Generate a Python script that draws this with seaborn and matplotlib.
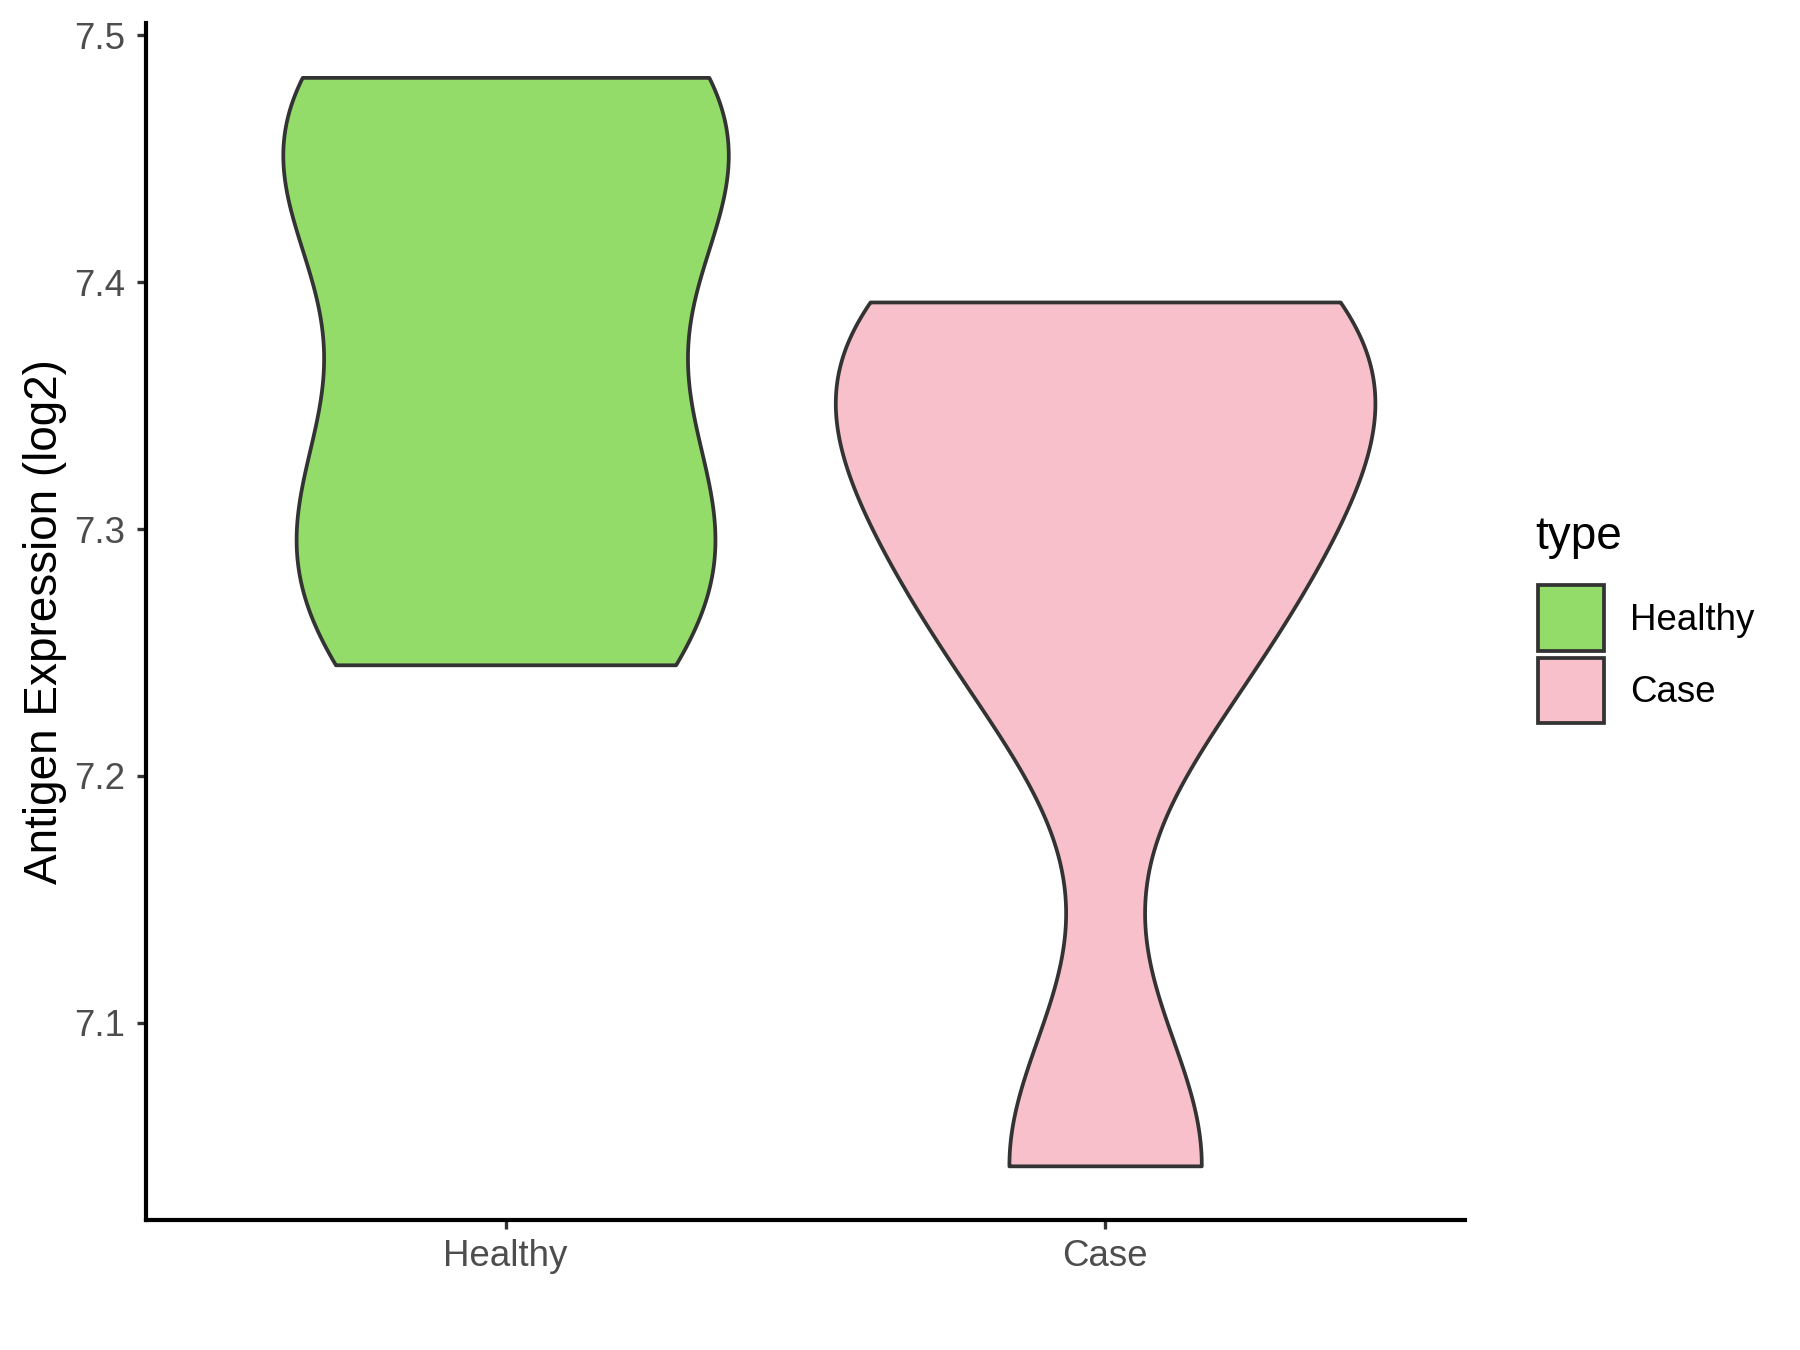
import numpy as np
import pandas as pd
import seaborn as sns
import matplotlib
matplotlib.use("Agg")
import matplotlib.pyplot as plt
from matplotlib.patches import Patch

# ---- data ----
categories = ["Healthy", "Case"]
healthy_values = [7.245, 7.295, 7.315, 7.435, 7.46, 7.483]
case_values = [7.042, 7.252, 7.318, 7.372, 7.392]
fill_colors = ["#93DC6A", "#F7C0CB"]
y_ticks = [7.1, 7.2, 7.3, 7.4, 7.5]
y_label = "Antigen Expression (log2)"
legend_title = "type"

plt.rcParams["font.family"] = ["Liberation Sans", "DejaVu Sans"]

df = pd.DataFrame({
    "type": ["Healthy"] * len(healthy_values) + ["Case"] * len(case_values),
    "value": healthy_values + case_values,
})


def nrd0_factor(kde):
    """Silverman's rule of thumb (R's bw.nrd0), expressed as a gaussian_kde factor."""
    x = np.asarray(kde.dataset).ravel()
    sd = x.std(ddof=1)
    q75, q25 = np.percentile(x, [75, 25])
    lo = min(sd, (q75 - q25) / 1.34)
    bw = 0.9 * lo * len(x) ** (-0.2)
    return bw / sd


fig = plt.figure(figsize=(12, 9), dpi=150)
ax = fig.add_axes([0.081, 0.0961, 0.7328, 0.8869])

outline = "#333333"
sns.violinplot(
    data=df, x="type", y="value", order=categories, color=fill_colors[0],
    cut=0, inner=None, width=0.9, density_norm="area",
    bw_method=nrd0_factor, gridsize=512,
    linewidth=1.8, linecolor=outline, saturation=1, ax=ax,
)
# one fill colour per category (violins are drawn in category order)
for coll, c in zip(ax.collections, fill_colors):
    coll.set_facecolor(c)

all_vals = np.array(healthy_values + case_values)
lo, hi = all_vals.min(), all_vals.max()
pad = 0.05 * (hi - lo)
ax.set_ylim(lo - pad, hi + pad)
ax.set_xlim(-0.6, len(categories) - 1 + 0.6)
ax.set_yticks(y_ticks)
ax.set_yticklabels([f"{t:.1f}" for t in y_ticks])

for side in ["top", "right"]:
    ax.spines[side].set_visible(False)
for side in ["left", "bottom"]:
    ax.spines[side].set_color("black")
    ax.spines[side].set_linewidth(2.0)

ax.tick_params(axis="both", colors=outline, width=1.6, length=4.3,
               labelsize=17.6, labelcolor="#4D4D4D")
ax.tick_params(axis="x", pad=4.5)
ax.tick_params(axis="y", pad=5.5)

ax.set_xlabel("")
ax.set_ylabel(y_label, fontsize=22, color="black")
ax.yaxis.set_label_coords(-0.060, 0.5)

handles = [Patch(facecolor=c, edgecolor=outline, linewidth=1.8, label=cat)
           for c, cat in zip(fill_colors, categories)]
fig.text(0.853, 0.5931, legend_title, fontsize=22, color="black",
         ha="left", va="baseline")
fig.legend(handles=handles, loc="upper left",
           bbox_to_anchor=(0.8546, 0.5663), frameon=False, fontsize=17.6,
           handlelength=1.79, handleheight=2.37,
           handletextpad=0.72, labelspacing=0.19, borderpad=0,
           borderaxespad=0)

fig.savefig("out.png", dpi=150)
